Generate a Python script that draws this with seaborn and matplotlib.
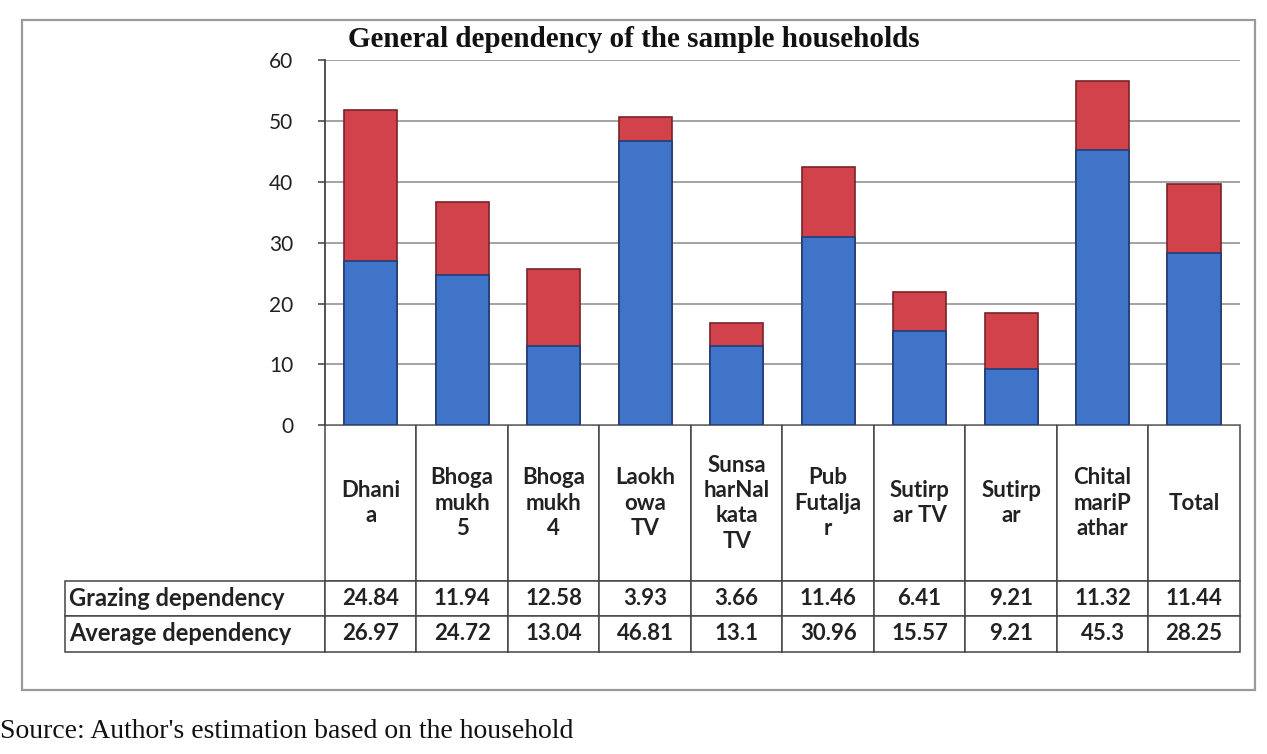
import matplotlib
matplotlib.use("Agg")
import matplotlib.pyplot as plt
import seaborn as sns
import pandas as pd
from matplotlib.patches import Rectangle
from matplotlib.table import Table

# Sites (wrapped as they appear in the data-table header)
categories = ["Dhani\na", "Bhoga\nmukh\n5", "Bhoga\nmukh\n4", "Laokh\nowa\nTV",
              "Sunsa\nharNal\nkata\nTV", "Pub\nFutalja\nr", "Sutirp\nar TV",
              "Sutirp\nar", "Chital\nmariP\nathar", "Total"]
grazing = [24.84, 11.94, 12.58, 3.93, 3.66, 11.46, 6.41, 9.21, 11.32, 11.44]
average = [26.97, 24.72, 13.04, 46.81, 13.1, 30.96, 15.57, 9.21, 45.3, 28.25]
row_labels = ["Grazing dependency", "Average dependency"]
y_ticks = [0, 10, 20, 30, 40, 50, 60]

title = "General dependency of the sample households"
source = "Source: Author's estimation based on the household"

BLUE = "#3f74c9"
RED = "#d2424a"

sns.set_theme(style="white")
plt.rcParams["font.family"] = ["Lato", "DejaVu Sans"]

fig = plt.figure(figsize=(12.67, 7.54), dpi=100)
ax = fig.add_axes([0.2565, 0.436, 0.722, 0.484])

df = pd.DataFrame({"site": categories, "grazing": grazing, "average": average})
df["total"] = df["average"] + df["grazing"]

# Stacked bars: full height (red, grazing on top) then the average part (blue) over it
sns.barplot(data=df, x="site", y="total", order=categories, color=RED,
            saturation=1, width=0.58, edgecolor="#7a2229", linewidth=1.2, ax=ax, zorder=3)
sns.barplot(data=df, x="site", y="average", order=categories, color=BLUE,
            saturation=1, width=0.58, edgecolor="#1f3d78", linewidth=1.2, ax=ax, zorder=3)

ax.set_xlim(-0.5, len(categories) - 0.5)
ax.set_ylim(0, 60)
ax.set_yticks(y_ticks)
ax.set_xlabel("")
ax.set_ylabel("")
ax.tick_params(axis="x", bottom=False, labelbottom=False)
ax.tick_params(axis="y", left=True, length=5, color="#555", labelsize=15,
               labelcolor="#222", pad=18)
ax.yaxis.grid(True, color="#8a8a8a", linewidth=1.1, zorder=0)
ax.set_axisbelow(True)
for side in ("top", "right", "bottom"):
    ax.spines[side].set_visible(False)
ax.spines["left"].set_color("#444")
ax.spines["left"].set_linewidth(1.3)

# Data table under the bars
label_w = 0.284
col_w = 1.0 / len(categories)
header_h, row_h = 155.0, 35.0
total_h = 0.62
tbl = Table(ax, bbox=[-label_w, -total_h, 1 + label_w, total_h])
tbl.auto_set_font_size(False)

hdr = tbl.add_cell(0, 0, width=label_w, height=header_h, text="", loc="left")
hdr.visible_edges = ""
for j, name in enumerate(categories):
    tbl.add_cell(0, j + 1, width=col_w, height=header_h, text=name, loc="center")

for i, (label, vals) in enumerate(zip(row_labels, [grazing, average])):
    tbl.add_cell(i + 1, 0, width=label_w, height=row_h, text=label, loc="left")
    for j, v in enumerate(vals):
        tbl.add_cell(i + 1, j + 1, width=col_w, height=row_h, text=f"{v:g}", loc="center")

for (r, c), cell in tbl.get_celld().items():
    cell.set_edgecolor("#444")
    cell.set_linewidth(1.1)
    txt = cell.get_text()
    txt.set_fontweight("bold")
    txt.set_color("#222")
    txt.set_linespacing(1.25)
    txt.set_fontsize(17 if c == 0 else 16)
    cell.PAD = 0.015
ax.add_table(tbl)

# Chart-area frame
fig.patches.append(Rectangle((22 / 1267, 1 - 690 / 754), (1255 - 22) / 1267,
                             (690 - 20) / 754, transform=fig.transFigure,
                             fill=False, edgecolor="#9a9a9a", linewidth=1.6))

fig.text(0.50, 0.948, title, ha="center", va="center", fontsize=21,
         fontweight="bold", family=["Liberation Serif", "DejaVu Serif"], color="#111")
fig.text(0.0, 0.03, source, ha="left", va="center", fontsize=20,
         family=["Liberation Serif", "DejaVu Serif"], color="#111")

fig.savefig("out.png", dpi=100)
